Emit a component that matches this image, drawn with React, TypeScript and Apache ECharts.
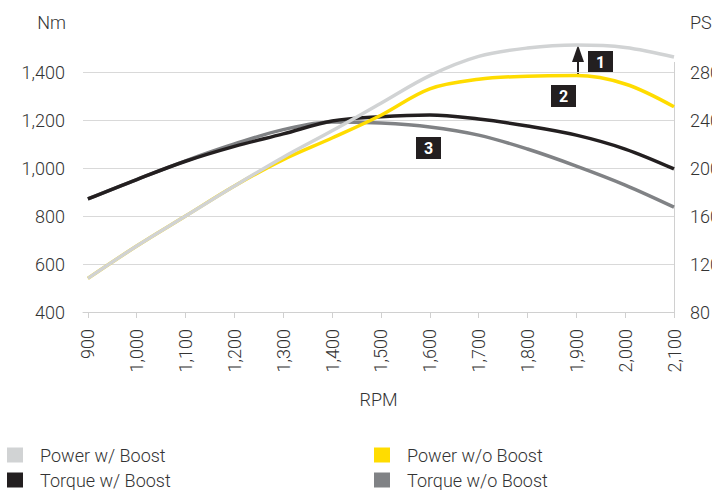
import React, { useEffect, useRef } from "react";
import * as echarts from "echarts";

const rpm = [900, 1000, 1100, 1200, 1300, 1400, 1500, 1600, 1700, 1800, 1900, 2000, 2100];
const powerBoost = [108, 135, 160, 185, 209, 231, 254, 277, 293, 300, 302.5, 300.5, 292.5];
const powerNoBoost = [108, 135, 160, 185, 207, 225, 244, 266, 274, 276.5, 277, 270, 251];
const torqueBoost = [871, 952, 1028, 1090, 1142, 1196, 1214, 1221, 1204, 1175, 1137, 1079, 996];
const torqueNoBoost = [871, 952, 1030, 1100, 1160, 1192, 1187, 1171, 1137, 1079, 1008, 929, 837];
const nmTicks = { min: 400, max: 1400, interval: 200 };
const psTicks = { min: 80, max: 280, interval: 40 };

const FONT = "Roboto";
const TXT = "#333333";
const fmt = (v: number) => v.toLocaleString("en-US");

export default function App() {
  const ref = useRef<HTMLDivElement>(null);
  useEffect(() => {
    if (!ref.current) return;
    const chart = echarts.init(ref.current, null, { renderer: "svg" });
    const mk = (name: string, data: number[], color: string, yIdx: number) => ({
      name,
      type: "line",
      yAxisIndex: yIdx,
      data: rpm.map((r, i) => [r, data[i]]),
      smooth: 0.35,
      showSymbol: false,
      clip: false,
      lineStyle: { color, width: 3.5 },
      itemStyle: { color },
    });
    const box = (x: number, y: number, label: string) => ({
      type: "group",
      children: [
        { type: "rect", shape: { x, y, width: 25, height: 22 }, style: { fill: "#231f20" } },
        {
          type: "text",
          x: x + 12.5,
          y: y + 11,
          style: { text: label, fill: "#ffffff", font: `bold 16px ${FONT}`, align: "center", verticalAlign: "middle" },
        },
      ],
    });
    const leg = (name: string, left: number, top: number) => ({
      orient: "horizontal",
      left,
      top,
      padding: 0,
      icon: "rect",
      itemWidth: 16,
      itemHeight: 15,
      data: [name],
      textStyle: { fontSize: 18, color: TXT, fontFamily: FONT, fontWeight: 300, padding: [0, 0, 0, 12] },
    });
    chart.setOption({
      animation: false,
      textStyle: { fontFamily: FONT },
      grid: { left: 83, right: 38, top: 72, bottom: 178, containLabel: false, outerBoundsMode: "none" },
      legend: [
        leg("Power w/ Boost", 7, 446),
        leg("Torque w/ Boost", 7, 471),
        leg("Power w/o Boost", 374, 446),
        leg("Torque w/o Boost", 374, 471),
      ],
      xAxis: {
        type: "value",
        min: 890,
        max: 2100,
        name: "RPM",
        nameLocation: "middle",
        nameGap: 78,
        nameTextStyle: { fontSize: 18, color: TXT, fontFamily: FONT, fontWeight: 300 },
        axisLine: { show: true, lineStyle: { color: "#d0d0d0", width: 1 } },
        axisTick: { show: true, length: 6, lineStyle: { color: "#d0d0d0" }, customValues: rpm },
        axisLabel: {
          customValues: rpm,
          rotate: 90,
          margin: 17,
          fontSize: 18,
          color: TXT,
          fontFamily: FONT,
          fontWeight: 300,
          formatter: (v: number) => fmt(v),
        },
        splitLine: { show: false },
      },
      yAxis: [
        {
          type: "value",
          ...nmTicks,
          axisLine: { show: false },
          axisTick: { show: false },
          axisLabel: { margin: 18, fontSize: 18, color: TXT, fontFamily: FONT, fontWeight: 300, formatter: (v: number) => fmt(v) },
          splitLine: { lineStyle: { color: "#d9d9d9", width: 1 } },
        },
        {
          type: "value",
          ...psTicks,
          axisLine: { show: true, lineStyle: { color: "#d0d0d0", width: 1 } },
          axisTick: { show: false },
          axisLabel: { margin: 16, fontSize: 18, color: TXT, fontFamily: FONT, fontWeight: 300 },
          splitLine: { show: false },
        },
      ],
      series: [
        mk("Torque w/o Boost", torqueNoBoost, "#808285", 0),
        mk("Torque w/ Boost", torqueBoost, "#231f20", 0),
        mk("Power w/o Boost", powerNoBoost, "#ffdc00", 1),
        mk("Power w/ Boost", powerBoost, "#d1d3d4", 1),
      ],
      graphic: [
        { type: "text", x: 66, y: 22, style: { text: "Nm", font: `300 18px ${FONT}`, fill: TXT, align: "right", verticalAlign: "middle" } },
        { type: "text", x: 690, y: 22, style: { text: "PS", font: `300 18px ${FONT}`, fill: TXT, align: "left", verticalAlign: "middle" } },
        { type: "line", shape: { x1: 674.5, y1: 62, x2: 674.5, y2: 72 }, style: { stroke: "#d0d0d0", lineWidth: 1 } },
        { type: "line", shape: { x1: 578, y1: 74, x2: 578, y2: 58 }, style: { stroke: "#231f20", lineWidth: 2 } },
        { type: "polygon", shape: { points: [[572, 62], [584, 62], [578, 45]] }, style: { fill: "#231f20" } },
        box(588, 51, "1"),
        box(551, 85, "2"),
        box(416, 137, "3"),
      ],
    });
    return () => chart.dispose();
  }, []);
  return <div ref={ref} style={{ position: "absolute", left: 0, top: 0, width: 712, height: 490 }} />;
}
